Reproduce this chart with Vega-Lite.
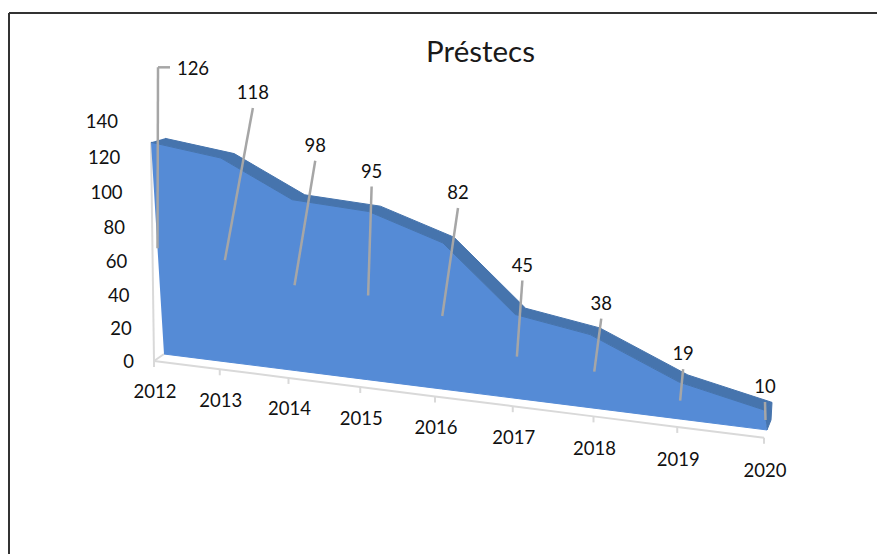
{"$schema":"https://vega.github.io/schema/vega-lite/v6.json","width":877,"height":554,"padding":0,"autosize":{"type":"none"},"background":"white","title":{"text":"Préstecs","font":"Lato","fontSize":29.5,"fontWeight":"normal","color":"#1a1a1a","anchor":"middle","dx":42,"offset":-68},"config":{"view":{"stroke":null}},"datasets":{"years":[{"year":2012,"value":126},{"year":2013,"value":118},{"year":2014,"value":98},{"year":2015,"value":95},{"year":2016,"value":82},{"year":2017,"value":45},{"year":2018,"value":38},{"year":2019,"value":19},{"year":2020,"value":10}],"levels":[{"level":0},{"level":20},{"level":40},{"level":60},{"level":80},{"level":100},{"level":120},{"level":140}]},"data":{"name":"years"},"transform":[{"calculate":"datum.year-2012","as":"i"},{"calculate":"154+64.25*datum.i+1.5*datum.i*datum.i","as":"ax"},{"calculate":"361+0.126*(datum.ax-154)","as":"ay"},{"calculate":"datum.ax+10-0.875*datum.i","as":"bx"},{"calculate":"354+0.126*(datum.bx-164)","as":"by"},{"calculate":"[1.68,1.73,1.745,1.77,1.78,1.87,1.95,1.95,2.0][datum.i]*datum.value","as":"h"},{"calculate":"datum.bx+[-13,-8,-4.5,1,1.5,-3,-8,-2,-3][datum.i]","as":"tx"},{"calculate":"datum.by-datum.h","as":"ty"},{"calculate":"datum.tx+14-0.75*datum.i","as":"kx"},{"calculate":"datum.ty-4-0.45*datum.i","as":"ky"},{"calculate":"datum.bx+4","as":"sx"},{"calculate":"datum.by-10","as":"sy"},{"calculate":"(datum.tx+datum.bx)/2","as":"mx"},{"calculate":"(datum.ty+datum.by)/2","as":"my"},{"calculate":"datum.tx+[42,32,23,3,15,7,11,4,1][datum.i]","as":"lx"},{"calculate":"datum.ty-[74,66,55,41,51,50,32,29,24][datum.i]","as":"ly"},{"calculate":"datum.i==0?datum.lx-35:datum.lx","as":"qx"},{"calculate":"datum.i==0?datum.ly-1:datum.ly+16","as":"qy"}],"encoding":{"x":{"type":"quantitative","scale":{"domain":[0,877],"range":[0,877]},"axis":null},"y":{"type":"quantitative","scale":{"domain":[0,554],"range":[0,554]},"axis":null}},"layer":[{"data":{"values":[{"frameX":9,"frameY":13,"endX":877,"endY":554}]},"transform":[],"mark":{"type":"rule","color":"#333333","strokeWidth":2},"encoding":{"x":{"field":"frameX","type":"quantitative"},"y":{"field":"frameY","type":"quantitative"},"y2":{"field":"endY"}}},{"data":{"values":[{"frameX":9,"frameY":13,"endX":877,"endY":554}]},"transform":[],"mark":{"type":"rule","color":"#333333","strokeWidth":2},"encoding":{"x":{"field":"frameX","type":"quantitative"},"x2":{"field":"endX"},"y":{"field":"frameY","type":"quantitative"}}},{"mark":{"type":"line","color":"#d9d9d9","strokeWidth":2},"encoding":{"x":{"field":"ax"},"y":{"field":"ay"},"order":{"field":"i"}}},{"mark":{"type":"rule","color":"#d9d9d9","strokeWidth":2},"encoding":{"x":{"field":"ax"},"y":{"field":"ay"},"y2":{"field":"tickEnd"}},"transform":[{"calculate":"datum.ay+6","as":"tickEnd"}]},{"transform":[{"filter":"datum.i==0"}],"mark":{"type":"rule","color":"#d9d9d9","strokeWidth":2},"encoding":{"x":{"field":"ax"},"y":{"field":"ay"},"x2":{"field":"bx"},"y2":{"field":"by"}}},{"transform":[{"filter":"datum.i==0"}],"mark":{"type":"rule","color":"#d9d9d9","strokeWidth":2},"encoding":{"x":{"field":"ax"},"y":{"field":"ay"},"x2":{"field":"tx"},"y2":{"field":"ty"}}},{"transform":[{"fold":["tx","bx"],"as":["edge","px"]},{"calculate":"datum.edge=='tx'?datum.ty:datum.by","as":"py"},{"calculate":"datum.edge=='tx'?datum.i:100-datum.i","as":"ord"}],"mark":{"type":"line","fill":"#558bd6","stroke":"#558bd6","strokeWidth":1,"filled":true},"encoding":{"x":{"field":"px"},"y":{"field":"py"},"order":{"field":"ord"}}},{"transform":[{"fold":["tx","kx"],"as":["edge","px"]},{"calculate":"datum.edge=='tx'?datum.ty:datum.ky","as":"py"},{"calculate":"datum.edge=='tx'?datum.i:100-datum.i","as":"ord"}],"mark":{"type":"line","fill":"#4674ad","stroke":"#4674ad","strokeWidth":1,"filled":true},"encoding":{"x":{"field":"px"},"y":{"field":"py"},"order":{"field":"ord"}}},{"transform":[{"filter":"datum.i==8"},{"fold":["tx","kx","sx","bx"],"as":["edge","px"]},{"calculate":"datum.edge=='tx'?datum.ty:datum.edge=='kx'?datum.ky:datum.edge=='sx'?datum.sy:datum.by","as":"py"},{"calculate":"indexof(['tx','kx','sx','bx'],datum.edge)","as":"ord"}],"mark":{"type":"line","fill":"#4674ad","stroke":"#4674ad","strokeWidth":1,"filled":true},"encoding":{"x":{"field":"px"},"y":{"field":"py"},"order":{"field":"ord"}}},{"mark":{"type":"rule","color":"#a6a6a6","strokeWidth":2.5},"encoding":{"x":{"field":"qx"},"y":{"field":"qy"},"x2":{"field":"mx"},"y2":{"field":"my"}}},{"transform":[{"filter":"datum.i==0"},{"calculate":"datum.qx+12","as":"ex"}],"mark":{"type":"rule","color":"#a6a6a6","strokeWidth":2.5},"encoding":{"x":{"field":"qx"},"x2":{"field":"ex"},"y":{"field":"qy"}}},{"mark":{"type":"text","font":"Lato","fontSize":18.5,"color":"#111111","align":"center","baseline":"middle","dy":1},"encoding":{"x":{"field":"lx"},"y":{"field":"ly"},"text":{"field":"value","type":"quantitative"}}},{"transform":[{"calculate":"datum.ax+1","as":"nx"},{"calculate":"datum.ay+30+0.25*datum.i","as":"ny"}],"mark":{"type":"text","font":"Lato","fontSize":18.5,"color":"#111111","align":"center","baseline":"middle","dy":1},"encoding":{"x":{"field":"nx"},"y":{"field":"ny"},"text":{"field":"year","type":"nominal"}}},{"data":{"name":"levels"},"transform":[{"calculate":"134-0.114*datum.level","as":"vx"},{"calculate":"361-1.62*datum.level-0.00066*datum.level*datum.level","as":"vy"}],"mark":{"type":"text","font":"Lato","fontSize":18.5,"color":"#111111","align":"right","baseline":"middle","dy":1},"encoding":{"x":{"field":"vx"},"y":{"field":"vy"},"text":{"field":"level","type":"quantitative"}}}]}
